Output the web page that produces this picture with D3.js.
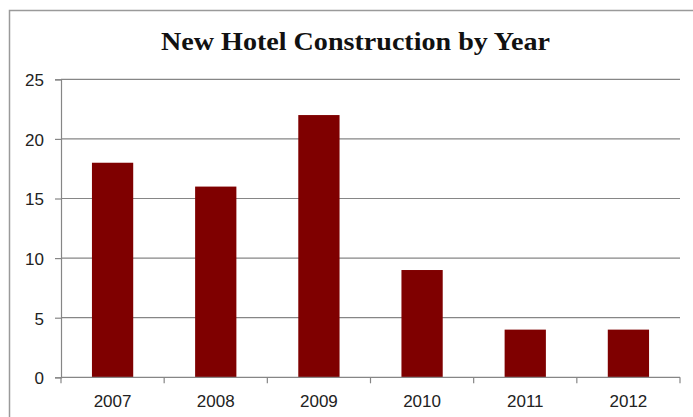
<!DOCTYPE html>
<html>
<head>
<meta charset="utf-8">
<script src="https://cdn.jsdelivr.net/npm/d3@7"></script>
<style>
html,body{margin:0;padding:0;background:#fff;overflow:hidden;}
</style>
</head>
<body>
<svg id="chart" width="693" height="417"></svg>
<script>
const title = "New Hotel Construction by Year";
const years = ["2007", "2008", "2009", "2010", "2011", "2012"];
const values = [18, 16, 22, 9, 4, 4];
const yTicks = [0, 5, 10, 15, 20, 25];

(function () {
const svg = d3.select("#chart");
const W = 693, H = 417;
const mLeft = 61, mRight = 680, mTop = 79.3, mBottom = 377.3;

// outer chart border
svg.append("rect").attr("x", 9.5).attr("y", 10.5).attr("width", W + 20).attr("height", H + 20)
  .attr("fill", "#fff").attr("stroke", "#9a9a9a").attr("stroke-width", 1.5);

const x = d3.scaleBand().domain(years).range([mLeft, mRight]).paddingInner(0.6).paddingOuter(0.3);
const xb = d3.scaleBand().domain(years).range([mLeft, mRight]);
const y = d3.scaleLinear().domain([0, 25]).range([mBottom, mTop]);

// gridlines
svg.append("g").selectAll("line").data(yTicks.filter(d => d > 0)).join("line")
  .attr("x1", mLeft).attr("x2", mRight)
  .attr("y1", d => y(d)).attr("y2", d => y(d))
  .attr("stroke", "#868686").attr("stroke-width", 1.2);

// bars
svg.append("g").selectAll("rect").data(values).join("rect")
  .attr("x", (d, i) => x(years[i]))
  .attr("width", x.bandwidth())
  .attr("y", d => y(d))
  .attr("height", d => y(0) - y(d))
  .attr("fill", "#7f0000");

const font = "'Liberation Sans', Arial, sans-serif";

// y axis
const yAxis = d3.axisLeft(y).tickValues(yTicks).tickSize(6).tickPadding(11).tickFormat(d3.format("d"));
const gy = svg.append("g").attr("transform", `translate(${mLeft},0)`).call(yAxis);
gy.select(".domain").attr("stroke", "#868686").attr("stroke-width", 1.2);
gy.selectAll(".tick line").attr("stroke", "#868686").attr("stroke-width", 1.2);
gy.selectAll(".tick text").attr("font-family", font).attr("font-size", 17).attr("fill", "#222").attr("dy", "0.38em");

// x axis: ticks at category boundaries
const gx = svg.append("g").attr("transform", `translate(0,${mBottom})`);
gx.append("line").attr("x1", mLeft).attr("x2", mRight).attr("stroke", "#868686").attr("stroke-width", 1.2);
const bounds = years.map(d => xb(d)).concat([mRight]);
gx.selectAll("line.tk").data(bounds).join("line").attr("class", "tk")
  .attr("x1", d => d).attr("x2", d => d).attr("y1", 0).attr("y2", 6)
  .attr("stroke", "#868686").attr("stroke-width", 1.2);
gx.selectAll("text").data(years).join("text")
  .attr("x", d => xb(d) + xb.bandwidth() / 2)
  .attr("y", 30)
  .attr("text-anchor", "middle")
  .attr("font-family", font).attr("font-size", 17).attr("fill", "#222")
  .text(d => d);

// title
const t = svg.append("text").attr("x", 355.5).attr("y", 49.5).attr("text-anchor", "middle")
  .attr("font-family", "'Liberation Serif', 'DejaVu Serif', serif").attr("font-weight", "bold")
  .attr("font-size", 26).attr("fill", "#111").text(title);
t.attr("textLength", 389).attr("lengthAdjust", "spacingAndGlyphs");
})();
</script>
</body>
</html>
